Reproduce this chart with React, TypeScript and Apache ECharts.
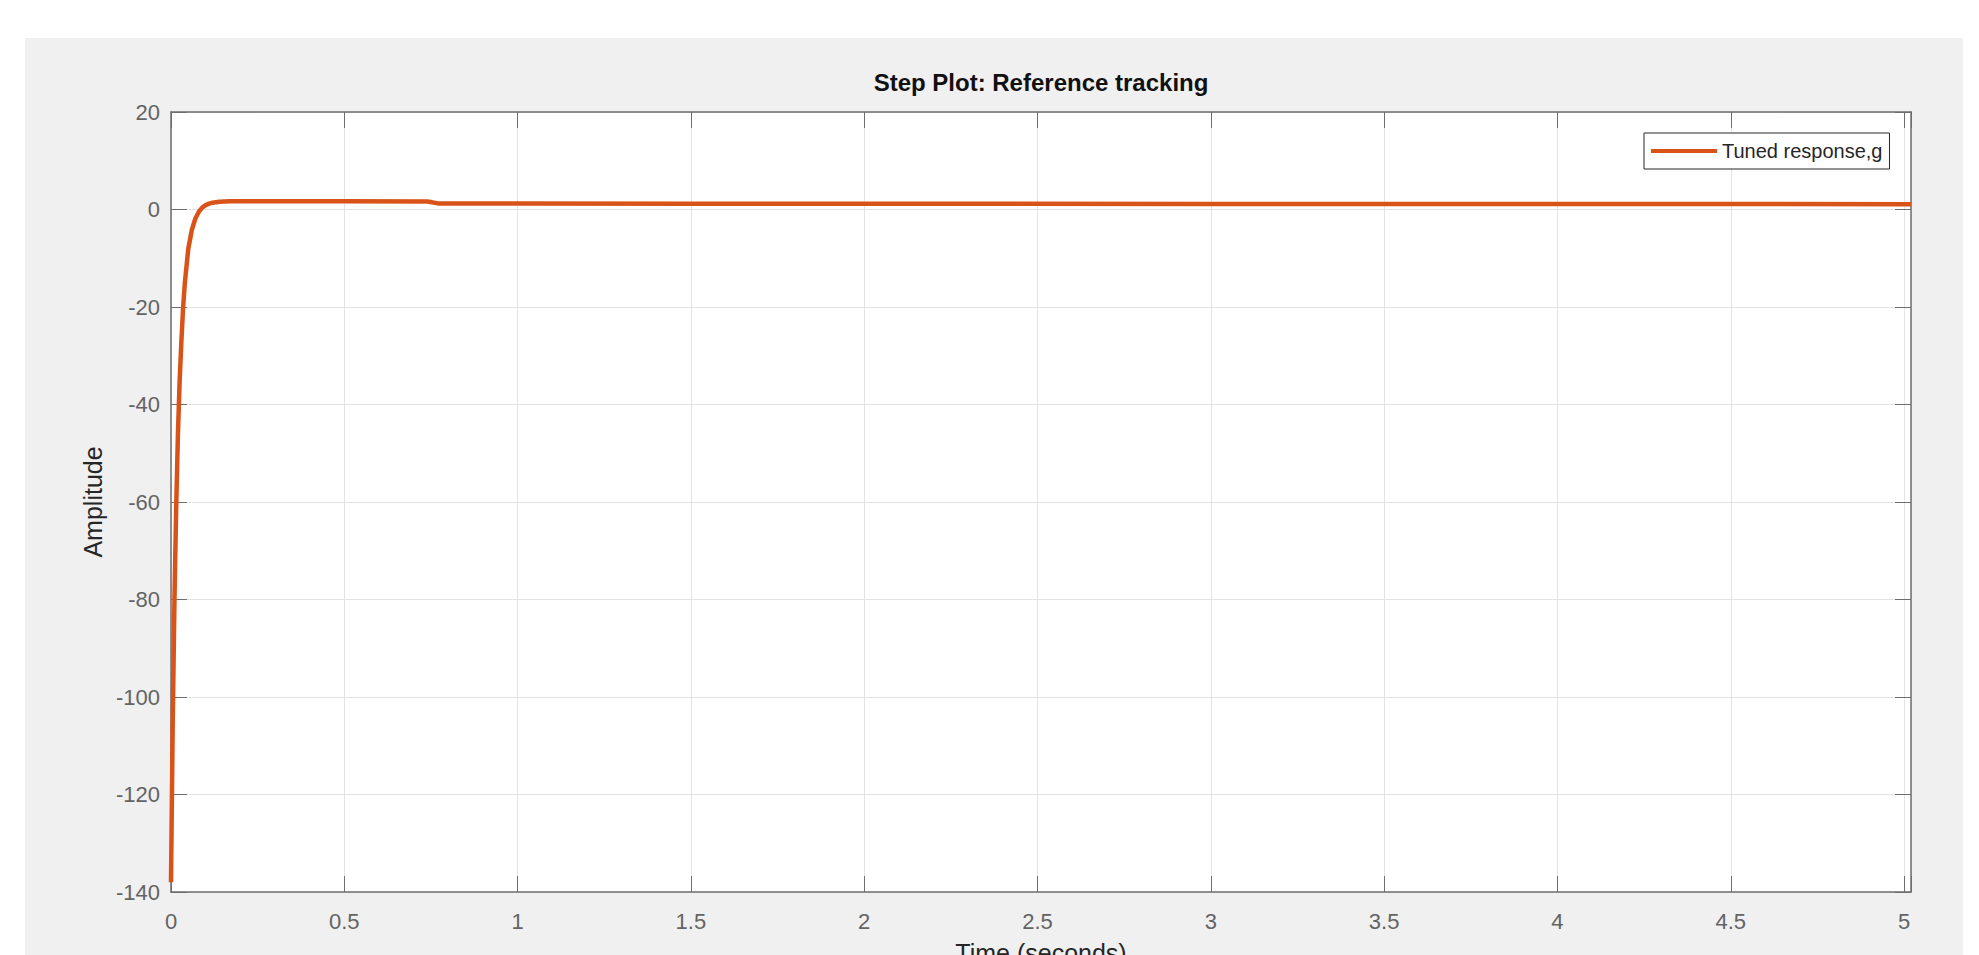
import React, { useEffect, useRef } from "react";
import * as echarts from "echarts";

// Step response (time in seconds, amplitude)
const timeS = [0, 0.005, 0.01, 0.015, 0.02, 0.025, 0.03, 0.035, 0.04, 0.05, 0.06, 0.07, 0.08, 0.09, 0.1, 0.11, 0.12, 0.14, 0.17, 0.25, 0.5, 0.74, 0.77, 1, 1.5, 2, 3, 4, 5.02];
const amplitude = [-138, -105, -80, -61, -46, -35, -27, -20, -15, -8, -4.2, -1.9, -0.5, 0.4, 0.9, 1.2, 1.4, 1.6, 1.7, 1.7, 1.7, 1.65, 1.25, 1.22, 1.2, 1.18, 1.15, 1.12, 1.1];

const xMin = 0;
const xMax = 5.02;
const xInterval = 0.5;
const yMin = -140;
const yMax = 20;
const yInterval = 20;

const seriesName = "Tuned response,g";
const titleText = "Step Plot: Reference tracking";
const xName = "Time (seconds)";
const yName = "Amplitude";

const FONT = "'Liberation Sans', Arial, Helvetica, sans-serif";
const AXIS_COLOR = "#6e6e6e";
const GRID_COLOR = "#e3e3e3";
const LABEL_COLOR = "#636363";
const LINE_COLOR = "#d95319";

export default function App() {
  const ref = useRef<HTMLDivElement>(null);

  useEffect(() => {
    document.body.style.margin = "0";
    if (!ref.current) return;
    const chart = echarts.init(ref.current, undefined, { renderer: "svg" });

    const xLabelFmt = (v: number) =>
      Math.abs(v / xInterval - Math.round(v / xInterval)) < 1e-6 ? String(+v.toFixed(2)) : "";

    const tick = () => ({
      show: true,
      inside: true,
      length: 16,
      lineStyle: { color: AXIS_COLOR, width: 1 },
    });
    const line = () => ({ show: true, onZero: false, lineStyle: { color: AXIS_COLOR, width: 1.5 } });

    const option: any = {
      animation: false,
      backgroundColor: "#ffffff",
      graphic: [
        {
          type: "rect",
          z: -10,
          silent: true,
          shape: { x: 25, y: 38, width: 1938, height: 917 },
          style: { fill: "#f0f0f0" },
        },
      ],
      title: {
        text: titleText,
        left: 1041,
        textAlign: "center",
        top: 70,
        padding: 0,
        textStyle: { fontFamily: FONT, fontSize: 24, fontWeight: "bold", color: "#111" },
      },
      legend: {
        left: 1644,
        top: 133,
        padding: [8, 7],
        backgroundColor: "#ffffff",
        borderColor: "#262626",
        borderWidth: 1,
        borderRadius: 0,
        itemWidth: 66,
        itemHeight: 4,
        icon: "rect",
        data: [seriesName],
        textStyle: { fontFamily: FONT, fontSize: 20, color: "#262626" },
      },
      grid: {
        left: 171,
        top: 112,
        width: 1740,
        height: 780,
        show: true,
        backgroundColor: "#ffffff",
        borderWidth: 0,
        containLabel: false,
        outerBoundsMode: "none",
      },
      xAxis: [
        {
          type: "value",
          min: xMin,
          max: xMax,
          interval: xInterval,
          position: "bottom",
          name: xName,
          nameLocation: "middle",
          nameGap: 48,
          nameTextStyle: { fontFamily: FONT, fontSize: 25, color: "#262626" },
          axisLine: line(),
          axisTick: tick(),
          axisLabel: {
            show: true,
            margin: 18,
            formatter: xLabelFmt,
            fontFamily: FONT,
            fontSize: 22,
            color: LABEL_COLOR,
          },
          splitLine: { show: true, lineStyle: { color: GRID_COLOR, width: 1 } },
        },
        {
          type: "value",
          min: xMin,
          max: xMax,
          interval: xInterval,
          position: "top",
          axisLine: line(),
          axisTick: tick(),
          axisLabel: { show: false },
          splitLine: { show: false },
        },
      ],
      yAxis: [
        {
          type: "value",
          min: yMin,
          max: yMax,
          interval: yInterval,
          position: "left",
          name: yName,
          nameLocation: "middle",
          nameRotate: 90,
          nameGap: 64,
          nameTextStyle: { fontFamily: FONT, fontSize: 25, color: "#262626" },
          axisLine: line(),
          axisTick: tick(),
          axisLabel: {
            show: true,
            margin: 11,
            fontFamily: FONT,
            fontSize: 22,
            color: LABEL_COLOR,
          },
          splitLine: { show: true, lineStyle: { color: GRID_COLOR, width: 1 } },
        },
        {
          type: "value",
          min: yMin,
          max: yMax,
          interval: yInterval,
          position: "right",
          axisLine: line(),
          axisTick: tick(),
          axisLabel: { show: false },
          splitLine: { show: false },
        },
      ],
      series: [
        {
          name: seriesName,
          type: "line",
          xAxisIndex: 0,
          yAxisIndex: 0,
          data: timeS.map((t, i) => [t, amplitude[i]]),
          showSymbol: false,
          symbol: "none",
          smooth: false,
          clip: true,
          color: LINE_COLOR,
          lineStyle: { color: LINE_COLOR, width: 4.5, join: "round" },
        },
      ],
    };

    chart.setOption(option);
    return () => chart.dispose();
  }, []);

  return (
    <div
      ref={ref}
      style={{ position: "absolute", left: 0, top: 0, width: 1979, height: 955 }}
    />
  );
}
